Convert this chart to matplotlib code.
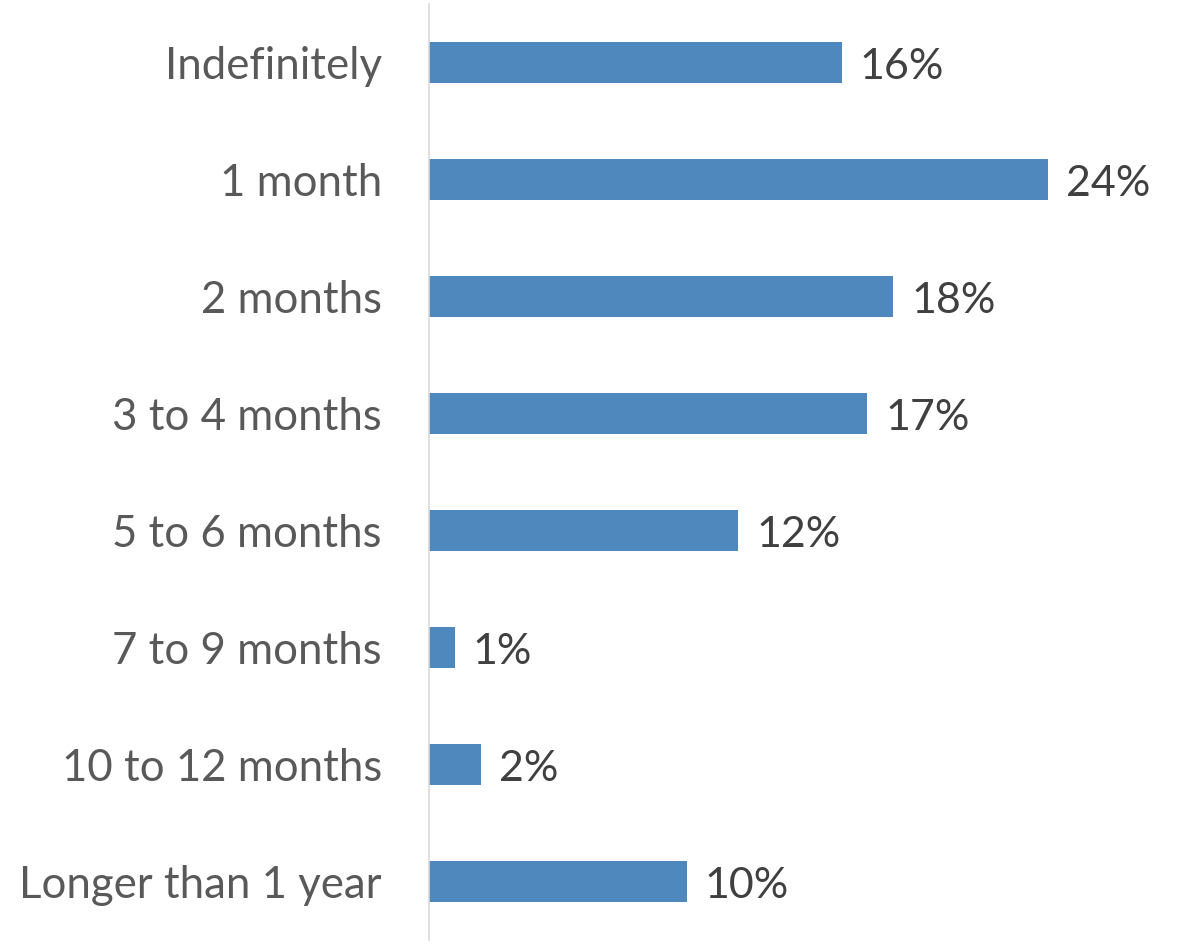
import numpy as np
import matplotlib
matplotlib.use('Agg')
import matplotlib.pyplot as plt

plt.rcParams['font.family'] = ['Lato', 'DejaVu Sans']

# how long people expect to keep going
categories = ['Indefinitely', '1 month', '2 months', '3 to 4 months',
              '5 to 6 months', '7 to 9 months', '10 to 12 months',
              'Longer than 1 year']
shares = [16, 24, 18, 17, 12, 1, 2, 10]

bar_color = '#4e88bc'

fig = plt.figure(figsize=(11.87, 9.44), dpi=100)
ax = fig.add_axes([429/1187, 4/944, 758/1187, 936/944])

pos = np.arange(len(categories))
ax.barh(pos, shares, height=0.35, color=bar_color)

for p, v in zip(pos, shares):
    ax.annotate(f'{v}%', (v, p), xytext=(13, -3), textcoords='offset points',
                va='center', ha='left', fontsize=31, color='#404040')

ax.set_xlim(0, 29.4)
ax.set_ylim(len(categories) - 0.5, -0.5)
ax.set_yticks(pos)
ax.set_yticklabels(categories, fontsize=31.5, color='#595959')
ax.tick_params(axis='y', length=0, pad=34)
ax.set_xticks([])

for side in ['top', 'right', 'bottom']:
    ax.spines[side].set_visible(False)
ax.spines['left'].set_color('#d9d9d9')
ax.spines['left'].set_linewidth(1.2)

fig.savefig('out.png', dpi=100)
